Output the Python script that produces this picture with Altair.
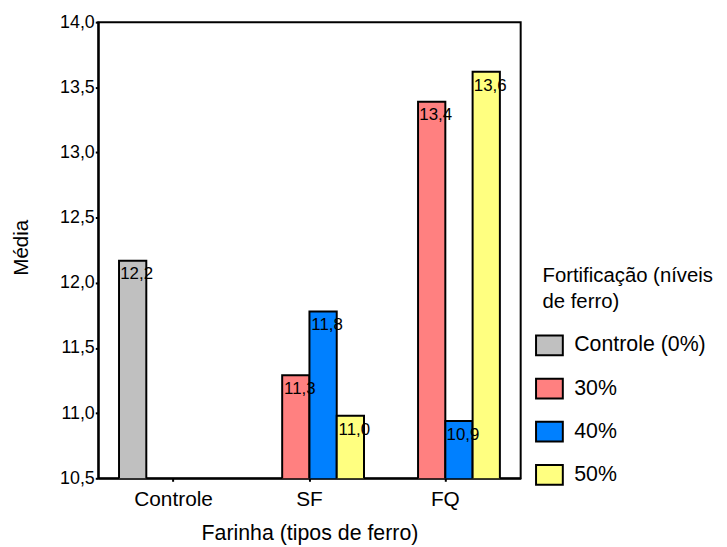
import altair as alt
import pandas as pd

farinha = ["Controle", "SF", "SF", "SF", "FQ", "FQ", "FQ"]
nivel = ["Controle (0%)", "30%", "40%", "50%", "30%", "40%", "50%"]
media = [12.17, 11.29, 11.78, 10.98, 13.39, 10.94, 13.62]

groups = ["Controle", "SF", "FQ"]
levels = ["Controle (0%)", "30%", "40%", "50%"]
colors = ["#C0C0C0", "#FF8080", "#0080FF", "#FFFF80"]
y_ticks = [10.5, 11.0, 11.5, 12.0, 12.5, 13.0, 13.5, 14.0]

df = pd.DataFrame({"Farinha": farinha, "Nivel": nivel, "Media": media})

FONT = "Liberation Sans"

x = alt.X("Farinha:N", sort=groups,
          scale=alt.Scale(paddingInner=0.197, paddingOuter=0.153),
          axis=alt.Axis(title="Farinha (tipos de ferro)", labelAngle=0,
                        labelFontSize=21, titleFontSize=21.5, labelPadding=7,
                        titlePadding=14, tickSize=3, tickWidth=2,
                        domainWidth=2, domainColor="black", tickColor="black",
                        labelColor="black", titleColor="black",
                        titleFontWeight="normal", labelFont=FONT, titleFont=FONT))
xo = alt.XOffset("Nivel:N", sort=levels, scale=alt.Scale(domain=levels, paddingInner=0, paddingOuter=0))
y = alt.Y("Media:Q",
          scale=alt.Scale(domain=[10.5, 14.0], zero=False, nice=False),
          axis=alt.Axis(title="Média", values=y_ticks,
                        labelExpr="replace(format(datum.value, '.1f'), '.', ',')",
                        labelFontSize=18, titleFontSize=20.7, tickSize=3, tickWidth=2,
                        labelPadding=1, domainWidth=2, domainColor="black",
                        tickColor="black", labelColor="black", titleColor="black",
                        titleFontWeight="normal", titleX=-77, titleY=227,
                        titleBaseline="middle", titleAlign="center",
                        labelFont=FONT, titleFont=FONT, grid=False))

bars = alt.Chart(df).mark_bar(stroke="black", strokeWidth=2, opacity=1, clip=True).encode(
    x=x, xOffset=xo, y=y,
    color=alt.Color("Nivel:N", sort=levels,
                    scale=alt.Scale(domain=levels, range=colors),
                    legend=alt.Legend(title=None, orient="none", legendX=444, legendY=315,
                                      symbolType="M-1.35,-1L1.35,-1L1.35,1L-1.35,1Z",
                                      symbolSize=400, symbolStrokeColor="black",
                                      symbolStrokeWidth=2, symbolOpacity=1,
                                      labelFontSize=21.5, labelFont=FONT, labelColor="black",
                                      rowPadding=15.5, labelOffset=14)),
)

labels = alt.Chart(df).transform_calculate(
    lbl="replace(format(datum.Media, '.1f'), '.', ',')"
).mark_text(baseline="top", dy=6, dx=4, fontSize=17, font=FONT, color="black").encode(
    x=x, xOffset=xo, y=y, text="lbl:N")

legend_title = alt.Chart(alt.Data(values=[{}])).mark_text(
    align="left", baseline="top", fontSize=20.5, font=FONT, color="black", lineHeight=26
).encode(x=alt.value(448), y=alt.value(246),
         text=alt.value(["Fortificação (níveis", "de ferro)"]))

chart = alt.layer(bars, labels, legend_title).properties(
    width=426, height=460,
    autosize=alt.AutoSizeParams(type="none"),
    padding={"left": 91, "top": 12, "right": 200, "bottom": 66},
).configure_view(stroke="black", strokeWidth=2)

chart.save("out.html", embed_options={"renderer": "svg", "actions": False})
